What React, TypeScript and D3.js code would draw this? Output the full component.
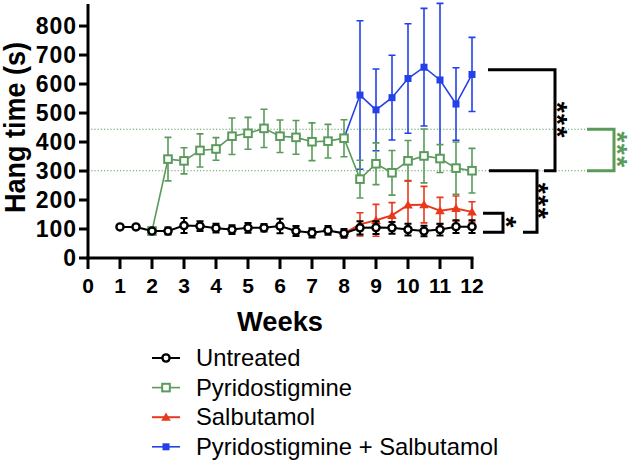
// @ts-nocheck
import * as d3 from 'd3';
import React, { useEffect, useRef } from 'react';

const weeksAll = [1, 1.5, 2, 2.5, 3, 3.5, 4, 4.5, 5, 5.5, 6, 6.5, 7, 7.5, 8, 8.5, 9, 9.5, 10, 10.5, 11, 11.5, 12];
const weeksPyr = [2, 2.5, 3, 3.5, 4, 4.5, 5, 5.5, 6, 6.5, 7, 7.5, 8, 8.5, 9, 9.5, 10, 10.5, 11, 11.5, 12];
const weeksLate = [8, 8.5, 9, 9.5, 10, 10.5, 11, 11.5, 12];

const untreatedMean = [107, 107, 93, 93, 112, 110, 103, 98, 104, 104, 110, 93, 87, 95, 85, 104, 105, 104, 98, 93, 98, 108, 108];
const untreatedErr = [4, 4, 4, 12, 26, 17, 15, 15, 17, 13, 25, 17, 16, 15, 15, 23, 22, 20, 20, 18, 20, 22, 22];

const pyrMean = [93, 341, 335, 371, 376, 420, 430, 447, 420, 416, 401, 403, 413, 272, 325, 294, 335, 352, 343, 310, 301];
const pyrErr = [0, 75, 45, 57, 39, 63, 55, 66, 56, 58, 65, 58, 64, 65, 72, 77, 70, 93, 48, 90, 77];

const salMean = [85, 116, 130, 147, 183, 184, 163, 171, 159];
const salErr = [0, 40, 55, 44, 84, 63, 46, 43, 35];

const comboMean = [413, 562, 511, 553, 619, 658, 614, 531, 633];
const comboErr = [0, 256, 141, 146, 189, 203, 264, 125, 128];

const xTicks = [0, 1, 2, 3, 4, 5, 6, 7, 8, 9, 10, 11, 12];
const yTicks = [0, 100, 200, 300, 400, 500, 600, 700, 800];

// reference levels (dotted) and significance brackets, in data units
const refLevels = [444, 301];
const brackets = [
  { top: 649, bottom: 301, x1: 488, x2: 555, x1b: 544, label: '***', lx: 565, color: '#000' },
  { top: 301, bottom: 89, x1: 489, x2: 537, x1b: 523, label: '***', lx: 546, color: '#000' },
  { top: 154, bottom: 89, x1: 483, x2: 503, x1b: 483, label: '*', lx: 514, color: '#000' },
  { top: 444, bottom: 301, x1: 587, x2: 614, x1b: 587, label: '***', lx: 625, color: '#5a9a5a' },
];

const GREEN = '#5a9a5a';
const RED = '#e8391d';
const BLUE = '#2440e8';

const series = [
  { name: 'Pyridostigmine + Salbutamol', x: weeksLate, y: comboMean, err: comboErr, color: BLUE, marker: 'fsquare', lw: 1.6 },
  { name: 'Pyridostigmine', x: weeksPyr, y: pyrMean, err: pyrErr, color: GREEN, marker: 'osquare', lw: 1.6 },
  { name: 'Salbutamol', x: weeksLate, y: salMean, err: salErr, color: RED, marker: 'triangle', lw: 2 },
  { name: 'Untreated', x: weeksAll, y: untreatedMean, err: untreatedErr, color: '#000', marker: 'circle', lw: 2 },
];

const legendOrder = ['Untreated', 'Pyridostigmine', 'Salbutamol', 'Pyridostigmine + Salbutamol'];

const FONT = '"Liberation Sans", Arial, Helvetica, sans-serif';

function drawMarker(g, type, cx, cy, color) {
  if (type === 'circle') {
    g.append('circle').attr('cx', cx).attr('cy', cy).attr('r', 3.6)
      .attr('fill', '#fff').attr('stroke', color).attr('stroke-width', 2.4);
  } else if (type === 'osquare') {
    g.append('rect').attr('x', cx - 3.8).attr('y', cy - 3.8).attr('width', 7.6).attr('height', 7.6)
      .attr('fill', '#fff').attr('stroke', color).attr('stroke-width', 2);
  } else if (type === 'fsquare') {
    g.append('rect').attr('x', cx - 3.5).attr('y', cy - 3.5).attr('width', 7).attr('height', 7)
      .attr('fill', color);
  } else if (type === 'triangle') {
    g.append('path')
      .attr('d', d3.symbol().type(d3.symbolTriangle).size(40)())
      .attr('transform', `translate(${cx},${cy + 0.8})`)
      .attr('fill', color);
  }
}

const App = () => {
  const svgRef = useRef(null);
  const width = 633;
  const height = 464;

  useEffect(() => {
    const svg = d3.select(svgRef.current);
    svg.selectAll('*').remove();

    const x = d3.scaleLinear().domain([0, 12]).range([88, 472]);
    const y = d3.scaleLinear().domain([0, 876]).range([258, 4]);

    // dotted reference lines
    refLevels.forEach(v => {
      svg.append('line')
        .attr('x1', x(0)).attr('x2', 586)
        .attr('y1', y(v)).attr('y2', y(v))
        .attr('stroke', GREEN).attr('stroke-width', 1.1)
        .attr('stroke-dasharray', '1.2,2');
    });

    // series
    series.forEach(s => {
      const g = svg.append('g');
      const pts = s.x.map((w, i) => ({ w, v: s.y[i], e: s.err[i] }));
      g.append('path')
        .datum(pts)
        .attr('fill', 'none')
        .attr('stroke', s.color)
        .attr('stroke-width', s.lw)
        .attr('d', d3.line().x(d => x(d.w)).y(d => y(d.v)));
      pts.forEach(p => {
        if (p.e > 0) {
          const cx = x(p.w);
          const yt = y(p.v + p.e);
          const yb = y(Math.max(0, p.v - p.e));
          g.append('path')
            .attr('d', `M${cx},${yt}V${yb}M${cx - 3.5},${yt}H${cx + 3.5}M${cx - 3.5},${yb}H${cx + 3.5}`)
            .attr('fill', 'none')
            .attr('stroke', s.color)
            .attr('stroke-width', s.color === '#000' ? 2 : 1.6);
        }
      });
      pts.forEach(p => drawMarker(g, s.marker, x(p.w), y(p.v), s.color));
    });

    // axes
    const axisG = svg.append('g');
    axisG.append('line').attr('x1', x(0)).attr('x2', x(0)).attr('y1', y(876)).attr('y2', y(0) + 1.5)
      .attr('stroke', '#000').attr('stroke-width', 3);
    axisG.append('line').attr('x1', x(0) - 1.5).attr('x2', x(12) + 1.5).attr('y1', y(0)).attr('y2', y(0))
      .attr('stroke', '#000').attr('stroke-width', 3);

    yTicks.forEach(t => {
      axisG.append('line').attr('x1', x(0) - 9).attr('x2', x(0)).attr('y1', y(t)).attr('y2', y(t))
        .attr('stroke', '#000').attr('stroke-width', 3);
      axisG.append('text')
        .attr('x', 77).attr('y', y(t)).attr('dy', '0.36em')
        .attr('text-anchor', 'end')
        .style('font-family', FONT).style('font-size', '23px').style('font-weight', 'bold')
        .style('letter-spacing', '1px')
        .text(t);
    });

    xTicks.forEach(t => {
      axisG.append('line').attr('x1', x(t)).attr('x2', x(t)).attr('y1', y(0)).attr('y2', y(0) + 11)
        .attr('stroke', '#000').attr('stroke-width', 3);
      axisG.append('text')
        .attr('x', x(t)).attr('y', 293)
        .attr('text-anchor', 'middle')
        .style('font-family', FONT).style('font-size', '21px').style('font-weight', 'bold')
        .text(t);
    });

    svg.append('text')
      .attr('transform', `translate(25,127.5) rotate(-90)`)
      .attr('text-anchor', 'middle')
      .attr('textLength', 171)
      .attr('lengthAdjust', 'spacingAndGlyphs')
      .style('font-family', FONT).style('font-size', '29px').style('font-weight', 'bold')
      .text('Hang time (s)');

    svg.append('text')
      .attr('x', 280).attr('y', 331)
      .attr('text-anchor', 'middle')
      .attr('textLength', 86)
      .attr('lengthAdjust', 'spacingAndGlyphs')
      .style('font-family', FONT).style('font-size', '27px').style('font-weight', 'bold')
      .text('Weeks');

    // significance brackets
    brackets.forEach(b => {
      svg.append('path')
        .attr('d', `M${b.x1},${y(b.top)}H${b.x2}V${y(b.bottom)}H${b.x1b}`)
        .attr('fill', 'none')
        .attr('stroke', b.color)
        .attr('stroke-width', 3);
      const cy = (y(b.top) + y(b.bottom)) / 2;
      svg.append('text')
        .attr('transform', `translate(${b.lx},${cy}) rotate(90)`)
        .attr('text-anchor', 'middle')
        .attr('dy', '0.6em')
        .style('font-family', FONT).style('font-size', '28px').style('font-weight', 'bold')
        .style('letter-spacing', '1.5px')
        .attr('fill', b.color)
        .text(b.label);
    });

    // legend
    const lg = svg.append('g');
    legendOrder.forEach((name, i) => {
      const s = series.find(d => d.name === name);
      const cy = 358 + i * 29.6;
      lg.append('line').attr('x1', 152).attr('x2', 180).attr('y1', cy).attr('y2', cy)
        .attr('stroke', s.color).attr('stroke-width', s.lw);
      drawMarker(lg, s.marker, 166, cy, s.color);
      lg.append('text')
        .attr('x', 196).attr('y', cy + 8)
        .style('font-family', FONT).style('font-size', '23.8px')
        .text(name);
    });
  }, []);

  return (
    <svg
      ref={svgRef}
      width={width}
      height={height}
      style={{ position: 'absolute', left: 0, top: 0, background: '#fff' }}
    />
  );
};

export default App;
